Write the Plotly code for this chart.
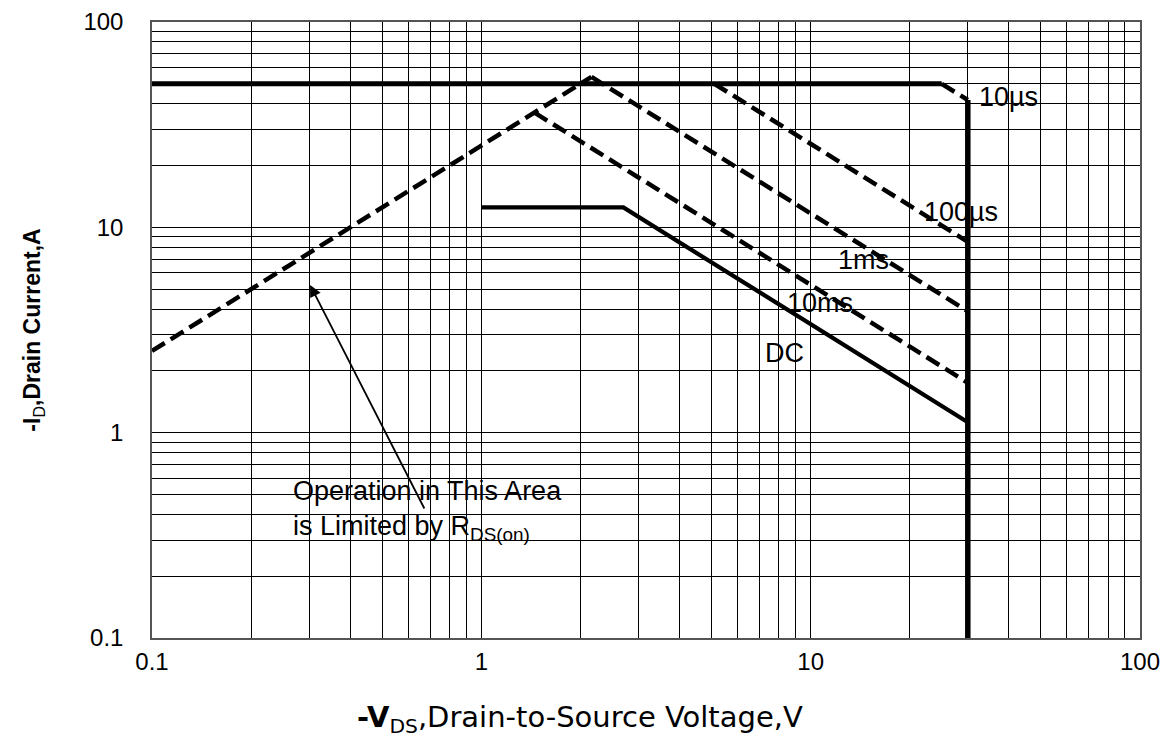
import numpy as np
import plotly.graph_objects as go

# ---- data ----
x_ticks = [0.1, 1, 10, 100]
y_ticks = [0.1, 1, 10, 100]
x_tick_text = ["0.1", "1", "10", "100"]
y_tick_text = ["0.1", "1", "10", "100"]

# package current limit and voltage limit
limit_x = [0.1, 25]
limit_y = [50, 50]
vmax_x = [30, 30]
vmax_y = [41.7, 0.1]

# RDS(on) limit line
rds_x = [0.1, 2.16]
rds_y = [2.5, 54]

# pulse lines
us10_x = [25, 30]
us10_y = [50, 41.7]
us100_x = [5.1, 30]
us100_y = [50, 8.5]
ms1_x = [2.16, 30]
ms1_y = [54, 3.9]
ms10_x = [1.45, 30]
ms10_y = [36.2, 1.75]
dc_x = [1, 2.7, 30]
dc_y = [12.5, 12.5, 1.125]

labels = ["10µs", "100µs", "1ms", "10ms", "DC"]
label_x = [40.0, 28.6, 14.5, 10.7, 8.3]
label_y = [43.2, 11.9, 6.9, 4.3, 2.45]

minor_vals = [m * 10.0 ** e for e in (-1, 0, 1) for m in range(2, 10)]

FONT = "Liberation Sans, Arial, sans-serif"
DASH = "15px,7px"

fig = go.Figure()

def add(x, y, width, dash="solid"):
    fig.add_trace(go.Scatter(x=x, y=y, mode="lines",
                             line=dict(color="black", width=width, dash=dash),
                             showlegend=False, hoverinfo="skip"))

add(limit_x, limit_y, 5)
add(vmax_x, vmax_y, 5.5)
add(rds_x, rds_y, 4.5, DASH)
add(us10_x, us10_y, 4.5, DASH)
add(us100_x, us100_y, 4.5, DASH)
add(ms1_x, ms1_y, 4.5, DASH)
add(ms10_x, ms10_y, 4.5, DASH)
add(dc_x, dc_y, 4.2)

for t, lx, ly in zip(labels, label_x, label_y):
    fig.add_annotation(x=np.log10(lx), y=np.log10(ly), text=t, showarrow=False,
                       font=dict(family=FONT, size=27, color="black"))

# RDS(on) note and arrow
fig.add_annotation(x=np.log10(0.265), y=np.log10(0.42),
                   text="Operation in This Area<br>is Limited by R<sub>DS(on)</sub>",
                   showarrow=False, xanchor="left", yanchor="middle", align="left",
                   font=dict(family=FONT, size=27, color="black"))
fig.add_annotation(x=np.log10(0.302), y=np.log10(5.24),
                   ax=np.log10(0.675), ay=np.log10(0.42),
                   axref="x", ayref="y", text="", showarrow=True,
                   arrowhead=2, arrowsize=1.3, arrowwidth=1.8, arrowcolor="black")

# x-axis title (placed left of centre as in the reference)
fig.add_annotation(xref="paper", yref="paper", x=0.433, y=-0.1315,
                   text="<b>-V</b><sub>DS</sub>,Drain-to-Source Voltage,V",
                   showarrow=False, xanchor="center", yanchor="middle",
                   font=dict(family="DejaVu Sans, sans-serif", size=29, color="black"))

axis_common = dict(type="log", showgrid=True, gridcolor="black", gridwidth=1,
                   showline=True, linecolor="#555", linewidth=1.5, mirror=True,
                   zeroline=False, ticks="", ticklabeloverflow="allow",
                   tickfont=dict(family=FONT, size=24, color="black"),
                   minor=dict(tickvals=minor_vals, showgrid=True,
                              gridcolor="black", gridwidth=1, ticks=""))

fig.update_xaxes(**axis_common, range=[-1, 2], tickvals=x_ticks, ticktext=x_tick_text,
                 ticklabelstandoff=1)
fig.update_yaxes(**axis_common, range=[-1, 2], tickvals=y_ticks, ticktext=y_tick_text,
                 ticklabelstandoff=22,
                 title=dict(text="<b>-I</b><sub>D</sub><b>,Drain Current,A</b>",
                            font=dict(family=FONT, size=23, color="black"), standoff=36))

fig.update_layout(width=1160, height=737, autosize=False,
                  margin=dict(l=144, r=28, t=14, b=107, autoexpand=False),
                  plot_bgcolor="white", paper_bgcolor="white",
                  font=dict(family=FONT, color="black"))

fig.write_html("out.html")
